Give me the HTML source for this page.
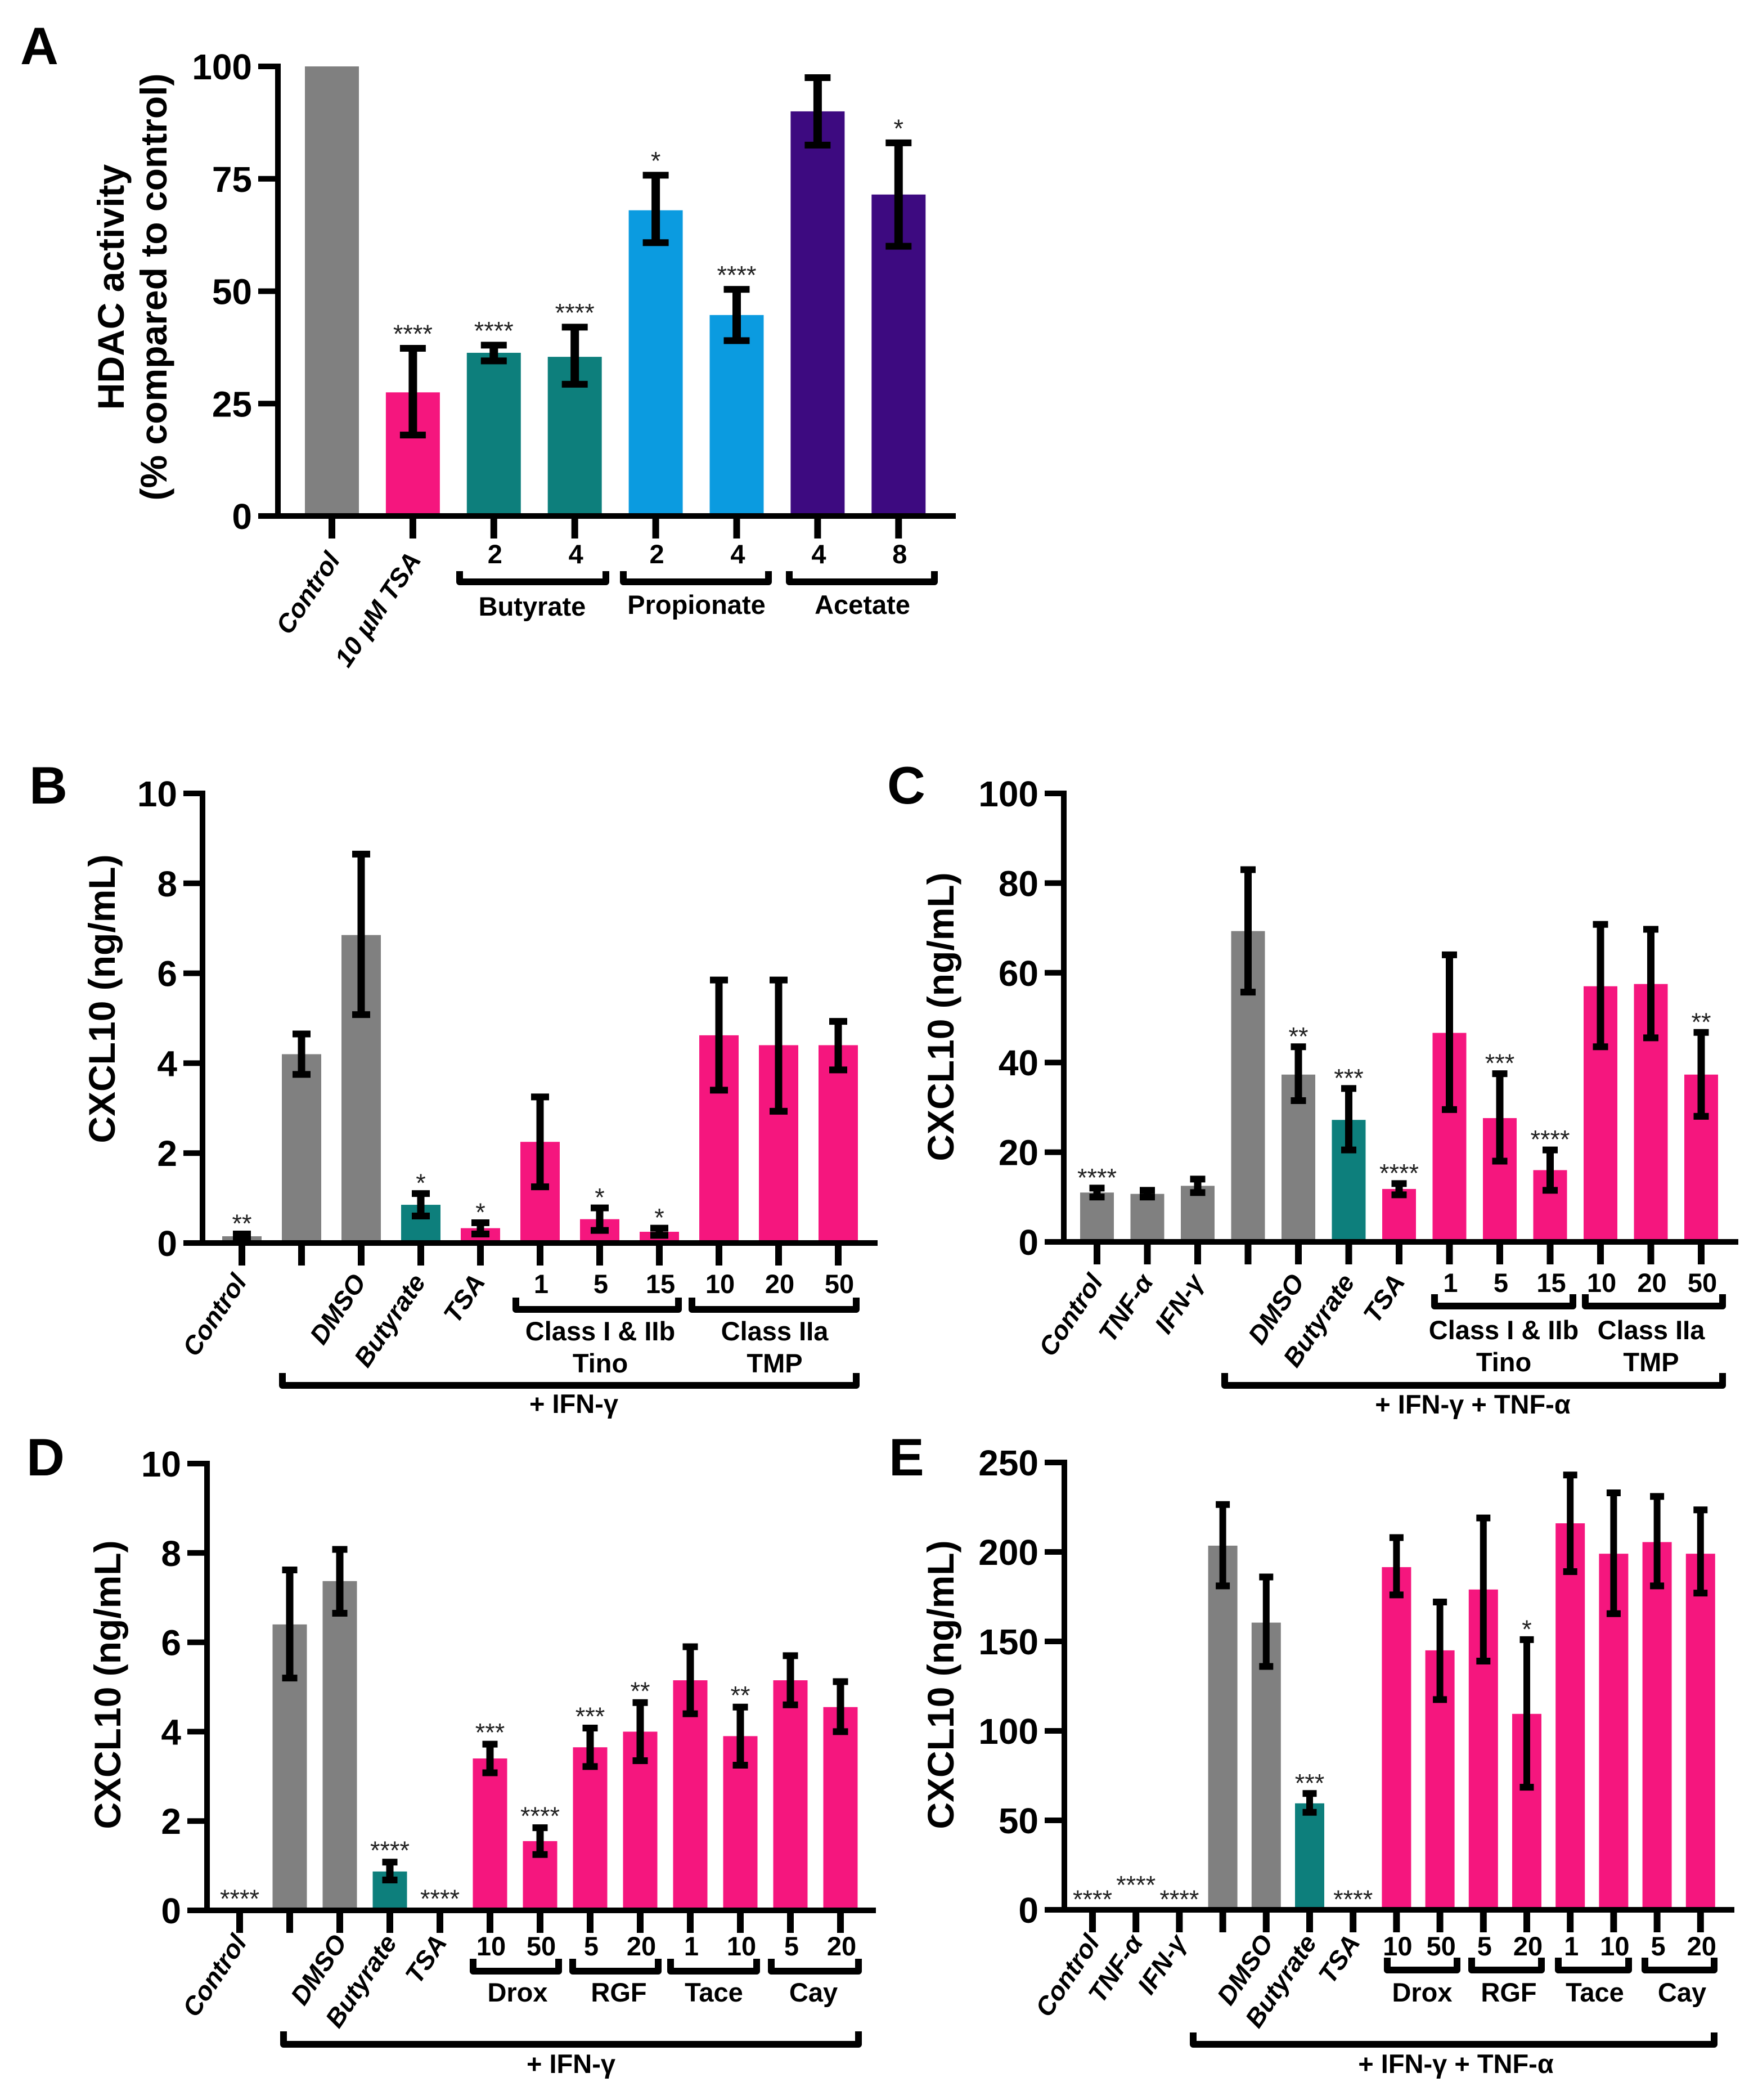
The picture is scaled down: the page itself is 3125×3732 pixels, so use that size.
<!DOCTYPE html>
<html lang="en">
<head>
<meta charset="utf-8">
<title>HDAC activity and CXCL10 bar charts</title>
<style>
html,body{margin:0;padding:0;background:#fff;}
svg{display:block;}
text{font-family:"Liberation Sans",Arial,sans-serif;fill:#000;}
.letter{font-size:94px;font-weight:700;}
.ytitle{font-size:66px;font-weight:700;}
.group{font-size:47px;font-weight:700;text-anchor:middle;}
.brk{fill:none;stroke:#000;stroke-width:12;stroke-linejoin:round;}
</style>
</head>
<body>
<svg id="figure" xmlns="http://www.w3.org/2000/svg" width="3125" height="3732" viewBox="0 0 3125 3732">
<rect x="0" y="0" width="3125" height="3732" fill="#fff"/>

<g id="panel-a">
<text class="letter" x="36" y="114">A</text>
<text class="ytitle" text-anchor="middle" transform="translate(220 510) rotate(-90)">HDAC activity</text>
<text class="ytitle" text-anchor="middle" transform="translate(296 510) rotate(-90)">(% compared to control)</text>
<path class="brk" d="M817 1015V1034H1077V1015"/>
<path class="brk" d="M1108 1015V1034H1366V1015"/>
<path class="brk" d="M1403 1015V1034H1661V1015"/>
<text class="group" x="946" y="1094">Butyrate</text>
<text class="group" x="1238" y="1091">Propionate</text>
<text class="group" x="1533" y="1091">Acetate</text>
</g>

<g id="panel-b">
<text class="letter" x="52" y="1428">B</text>
<text class="ytitle" text-anchor="middle" transform="translate(204 1775) rotate(-90)">CXCL10 (ng/mL)</text>
<path class="brk" d="M917 2306V2327H1206V2306"/>
<path class="brk" d="M1230 2306V2327H1522V2306"/>
<path class="brk" d="M502 2440V2462H1522V2440"/>
<text class="group" x="1067" y="2382">Class I &amp; IIb</text>
<text class="group" x="1067" y="2439">Tino</text>
<text class="group" x="1377" y="2382">Class IIa</text>
<text class="group" x="1377" y="2439">TMP</text>
<text class="group" x="1020" y="2511">+ IFN-γ</text>
</g>

<g id="panel-c">
<text class="letter" x="1577" y="1428">C</text>
<text class="ytitle" text-anchor="middle" transform="translate(1695 1807) rotate(-90)">CXCL10 (ng/mL)</text>
<path class="brk" d="M2550 2300V2321H2796V2300"/>
<path class="brk" d="M2818 2300V2321H3062V2300"/>
<path class="brk" d="M2177 2440V2462H3062V2440"/>
<text class="group" x="2673" y="2380">Class I &amp; IIb</text>
<text class="group" x="2673" y="2437">Tino</text>
<text class="group" x="2935" y="2380">Class IIa</text>
<text class="group" x="2935" y="2437">TMP</text>
<text class="group" x="2618" y="2512">+ IFN-γ + TNF-α</text>
</g>

<g id="panel-d">
<text class="letter" x="47" y="2622">D</text>
<text class="ytitle" text-anchor="middle" transform="translate(214 2994) rotate(-90)">CXCL10 (ng/mL)</text>
<path class="brk" d="M841 3481V3503H993V3481"/>
<path class="brk" d="M1018 3481V3503H1170V3481"/>
<path class="brk" d="M1192 3481V3503H1345V3481"/>
<path class="brk" d="M1371 3481V3503H1526V3481"/>
<path class="brk" d="M504 3610V3633H1526V3610"/>
<text class="group" x="920" y="3557">Drox</text>
<text class="group" x="1100" y="3557">RGF</text>
<text class="group" x="1269" y="3557">Tace</text>
<text class="group" x="1446" y="3557">Cay</text>
<text class="group" x="1015" y="3684">+ IFN-γ</text>
</g>

<g id="panel-e">
<text class="letter" x="1580" y="2622">E</text>
<text class="ytitle" text-anchor="middle" transform="translate(1695 2994) rotate(-90)">CXCL10 (ng/mL)</text>
<path class="brk" d="M2466 3479V3501H2590V3479"/>
<path class="brk" d="M2616 3479V3501H2740V3479"/>
<path class="brk" d="M2770 3479V3501H2895V3479"/>
<path class="brk" d="M2924 3479V3501H3047V3479"/>
<path class="brk" d="M2121 3612V3633H3047V3612"/>
<text class="group" x="2528" y="3557">Drox</text>
<text class="group" x="2682" y="3557">RGF</text>
<text class="group" x="2835" y="3557">Tace</text>
<text class="group" x="2990" y="3557">Cay</text>
<text class="group" x="2588" y="3684">+ IFN-γ + TNF-α</text>
</g>
</svg>

<script>
// Panel A data
const aCategories = ['Control','10 µM TSA','2','4','2','4','4','8'];
const aTicks = [0,25,50,75,100];
const aValues = [100,27.5,36.3,35.4,68,44.7,90,71.5];
const aUpper = [100,37.3,38,42,75.8,50.4,97.5,83];
const aLower = [100,18,34.5,29.3,60.8,39,82.5,60];
const aSig = ['','****','****','****','*','****','','*'];
const aTreatment = ['grey','pink','teal','teal','blue','blue','purple','purple'];

// Panel B data
const bCategories = ['Control','','DMSO','Butyrate','TSA','1','5','15','10','20','50'];
const bTicks = [0,2,4,6,8,10];
const bValues = [0.15,4.2,6.85,0.85,0.33,2.25,0.53,0.25,4.62,4.4,4.4];
const bUpper = [0.2,4.65,8.65,1.1,0.45,3.25,0.78,0.33,5.85,5.85,4.93];
const bLower = [0.1,3.75,5.08,0.6,0.2,1.25,0.28,0.17,3.4,2.93,3.85];
const bSig = ['**','','','*','*','','*','*','','',''];
const bTreatment = ['grey','grey','grey','teal','pink','pink','pink','pink','pink','pink','pink'];

// Panel C data
const cCategories = ['Control','TNF-α','IFN-γ','','DMSO','Butyrate','TSA','1','5','15','10','20','50'];
const cTicks = [0,20,40,60,80,100];
const cValues = [11,10.7,12.5,69.3,37.3,27.2,11.8,46.6,27.6,16,57,57.5,37.3];
const cUpper = [12,11.5,14,83,43.5,34.2,13,64,37.5,20.5,70.8,69.7,46.7];
const cLower = [10,10,11,55.7,31.5,20.5,10.5,29.5,18,11.5,43.5,45.5,28];
const cSig = ['****','','','','**','***','****','','***','****','','','**'];
const cTreatment = ['grey','grey','grey','grey','grey','teal','pink','pink','pink','pink','pink','pink','pink'];

// Panel D data
const dCategories = ['Control','','DMSO','Butyrate','TSA','10','50','5','20','1','10','5','20'];
const dTicks = [0,2,4,6,8,10];
const dValues = [0,6.4,7.37,0.87,0,3.4,1.55,3.65,4,5.15,3.9,5.15,4.55];
const dUpper = [0,7.62,8.08,1.08,0,3.72,1.85,4.08,4.65,5.9,4.55,5.7,5.12];
const dLower = [0,5.2,6.65,0.68,0,3.08,1.25,3.22,3.35,4.4,3.25,4.6,4];
const dSig = ['****','','','****','****','***','****','***','**','','**','',''];
const dTreatment = ['grey','grey','grey','teal','pink','pink','pink','pink','pink','pink','pink','pink','pink'];

// Panel E data
const eCategories = ['Control','TNF-α','IFN-γ','','DMSO','Butyrate','TSA','10','50','5','20','1','10','5','20'];
const eTicks = [0,50,100,150,200,250];
const eValues = [0,0,0,203.5,160.5,59.5,0,191.5,145,179,109.5,216,199,205.5,199];
const eUpper = [0,8,0,226.5,186,65,0,208,172,219,151,243,233,231,223.5];
const eLower = [0,0,0,181,136,54.5,0,176,117.5,139,68.5,189,165.5,181,177];
const eSig = ['****','****','****','','','***','****','','','','*','','','',''];
const eTreatment = ['grey','grey','grey','grey','grey','teal','pink','pink','pink','pink','pink','pink','pink','pink','pink'];

const PALETTE = {grey:'#808080',pink:'#f5167e',teal:'#0d7f7c',blue:'#0b9be0',purple:'#3d0a80'};
const NS = 'http://www.w3.org/2000/svg';

function make(parent, tag, attrs, txt){
  const el = document.createElementNS(NS, tag);
  for (const k in attrs) el.setAttribute(k, attrs[k]);
  if (txt !== undefined) el.textContent = txt;
  parent.appendChild(el);
  return el;
}

function drawPanel(p){
  const root = document.getElementById('panel-' + p.id);
  const yAt = v => p.y0 - (v / p.max) * (p.y0 - p.yTop);
  const xAt = i => p.x0 + i * p.step;

  p.values.forEach((v, i) => {
    if (v > 0) {
      const bar = make(root, 'rect', {x: xAt(i) - p.barW / 2, y: yAt(v), width: p.barW, height: p.y0 - yAt(v), fill: PALETTE[p.treatment[i]]});
      
      

      if (p.upper[i] > p.lower[i]) {
        const stem = make(root, 'line', {x1: xAt(i), x2: xAt(i), y1: yAt(p.upper[i]), y2: yAt(p.lower[i]), stroke: '#000', 'stroke-width': p.stem});
        
        
        [p.upper[i], p.lower[i]].forEach((e, k) => {
          const cap = make(root, 'line', {x1: xAt(i) - p.cap / 2, x2: xAt(i) + p.cap / 2, y1: yAt(e), y2: yAt(e), stroke: '#000', 'stroke-width': 12});
          
          
        });
      }
    }
    if (p.sig[i]) {
      const star = make(root, 'text', {x: xAt(i), y: yAt(p.upper[i]) - p.sigGap, 'text-anchor': 'middle', 'font-size': 45, style: 'fill:#222'}, p.sig[i]);
      
      
    }

    const tick = make(root, 'line', {x1: xAt(i), x2: xAt(i), y1: p.y0, y2: p.y0 + 40, stroke: '#000', 'stroke-width': 12});
    
    

    const label = p.categories[i];
    if (label) {
      const numeric = !isNaN(Number(label));
      const attrs = numeric
        ? {x: xAt(i) + 2, y: p.numY, 'text-anchor': 'middle', 'font-size': 47, 'font-weight': 700}
        : {transform: 'translate(' + (xAt(i) + p.rotDx) + ' ' + p.rotY + ') rotate(-56)', 'text-anchor': 'end', 'font-size': 46, 'font-weight': 700, 'font-style': 'italic'};
      const tl = make(root, 'text', attrs, label);
      
      
    }
  });

  const yAxis = make(root, 'line', {x1: p.axisX, x2: p.axisX, y1: p.yTop - 5, y2: p.y0 + 5, stroke: '#000', 'stroke-width': 10});
  
  

  const xAxis = make(root, 'line', {x1: p.baseL, x2: p.baseR, y1: p.y0, y2: p.y0, stroke: '#000', 'stroke-width': 10});
  
  

  p.ticks.forEach(t => {
    const yt = make(root, 'line', {x1: p.baseL, x2: p.axisX, y1: yAt(t), y2: yAt(t), stroke: '#000', 'stroke-width': 10});
    
    
    const yl = make(root, 'text', {x: p.baseL - 11, y: yAt(t) + 23, 'text-anchor': 'end', 'font-size': 64, 'font-weight': 700}, String(t));
    
    
  });
}

drawPanel({id:'a',categories:aCategories,ticks:aTicks,values:aValues,upper:aUpper,lower:aLower,sig:aSig,treatment:aTreatment,
  max:100,y0:917,yTop:118,x0:590,step:143.9,barW:96,axisX:494,baseL:459,baseR:1699,stem:15,cap:46,numY:1001,rotDx:16,rotY:995,sigGap:10});
drawPanel({id:'b',categories:bCategories,ticks:bTicks,values:bValues,upper:bUpper,lower:bLower,sig:bSig,treatment:bTreatment,
  max:10,y0:2209,yTop:1410,x0:430,step:106,barW:70,axisX:360,baseL:326,baseR:1560,stem:13,cap:32,numY:2298,rotDx:10,rotY:2278,sigGap:3});
drawPanel({id:'c',categories:cCategories,ticks:cTicks,values:cValues,upper:cUpper,lower:cLower,sig:cSig,treatment:cTreatment,
  max:100,y0:2207,yTop:1410,x0:1950,step:89.5,barW:60,axisX:1891,baseL:1857,baseR:3090,stem:13,cap:27,numY:2296,rotDx:12,rotY:2278,sigGap:3});
drawPanel({id:'d',categories:dCategories,ticks:dTicks,values:dValues,upper:dUpper,lower:dLower,sig:dSig,treatment:dTreatment,
  max:10,y0:3395,yTop:2601,x0:426,step:89,barW:61,axisX:368,baseL:333,baseR:1557,stem:13,cap:27,numY:3475,rotDx:14,rotY:3452,sigGap:5});
drawPanel({id:'e',categories:eCategories,ticks:eTicks,values:eValues,upper:eUpper,lower:eLower,sig:eSig,treatment:eTreatment,
  max:250,y0:3394,yTop:2599,x0:1942,step:77.2,barW:52,axisX:1892,baseL:1857,baseR:3083,stem:12,cap:25,numY:3475,rotDx:14,rotY:3452,sigGap:3});
</script>
</body>
</html>
